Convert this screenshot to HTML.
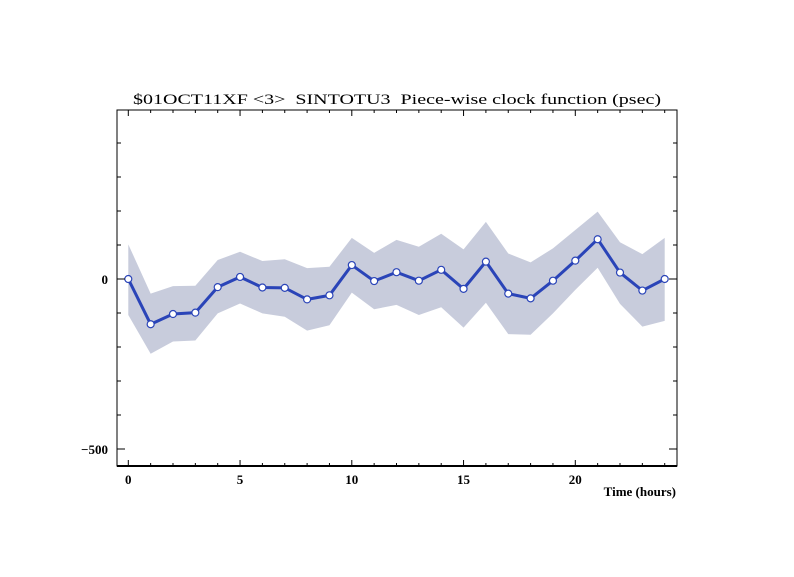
<!DOCTYPE html>
<html><head><meta charset="utf-8"><style>
body{margin:0;background:#fff}
svg{display:block}
text{font-family:"Liberation Serif",serif;font-size:13px;fill:#000;font-weight:bold;white-space:pre}
</style></head><body>
<svg id="chart" width="794" height="577" viewBox="0 0 794 577" xmlns="http://www.w3.org/2000/svg">
<text x="133" y="104" textLength="528" lengthAdjust="spacingAndGlyphs" style="font-size:15px;font-weight:normal" xml:space="preserve">$01OCT11XF &lt;3&gt;  SINTOTU3  Piece-wise clock function (psec)</text>
<g id="band"></g>
<g id="series"></g>
<rect x="117" y="110" width="560" height="356" fill="none" stroke="#000" stroke-width="1"/>
<line x1="117" y1="466" x2="677" y2="466" stroke="#000" stroke-width="2"/>
<g id="axes"></g>
<text x="676" y="496" text-anchor="end">Time (hours)</text>
</svg>
<script>
const hours=[0,1,2,3,4,5,6,7,8,9,10,11,12,13,14,15,16,17,18,19,20,21,22,23,24];
const values=[0,-133,-103,-99,-24,6,-25,-26,-60,-48,41,-6,20,-5,27,-29,51,-43,-57,-5,54,117,19,-34,0];
const upper=[102,-43,-21,-20,56,80,53,58,32,36,121,77,115,95,133,87,168,75,49,90,144,198,108,73,121];
const lower=[-106,-220,-184,-181,-101,-72,-101,-111,-152,-136,-40,-89,-76,-106,-83,-143,-70,-162,-164,-101,-32,33,-73,-140,-123];
const xTicks=[0,5,10,15,20];
const yTickLabels=[0,-500];
const NS='http://www.w3.org/2000/svg';
const X=h=>128.3+h*22.35;
const Y=v=>279-v*0.34;
function mk(tag,attrs,parent){const e=document.createElementNS(NS,tag);for(const k in attrs)e.setAttribute(k,attrs[k]);parent.appendChild(e);return e;}
const band=document.getElementById('band'),series=document.getElementById('series'),axes=document.getElementById('axes');
let pts=hours.map((h,i)=>X(h)+','+Y(upper[i]));
pts=pts.concat(hours.map((h,i)=>X(h)+','+Y(lower[i])).reverse());
const poly=mk('polygon',{points:pts.join(' '),fill:'#c8ccdc'},band);


const line=mk('polyline',{points:hours.map((h,i)=>X(h)+','+Y(values[i])).join(' '),fill:'none',stroke:'#2a44b8','stroke-width':3},series);


hours.forEach((h,i)=>{
 const c=mk('circle',{cx:X(h),cy:Y(values[i]),r:3.5,fill:'#fff',stroke:'#2a44b8','stroke-width':1.2},series);
 
 
});
for(let h=0;h<=24;h++){
 const L=h%5===0?6:3;
 mk('line',{x1:X(h),x2:X(h),y1:466,y2:466-L,stroke:'#000'},axes);
 mk('line',{x1:X(h),x2:X(h),y1:110,y2:110+L,stroke:'#000'},axes);
}
xTicks.forEach(h=>{
 const t=mk('text',{x:X(h),y:484,'text-anchor':'middle'},axes);t.textContent=h;
 
 
});
for(let v=-500;v<=400;v+=100){
 const L=v%500===0?8:4;
 mk('line',{x1:117,x2:117+L,y1:Y(v),y2:Y(v),stroke:'#000'},axes);
 mk('line',{x1:677,x2:677-L,y1:Y(v),y2:Y(v),stroke:'#000'},axes);
}
yTickLabels.forEach(v=>{
 const t=mk('text',{x:108,y:Y(v)+5,'text-anchor':'end'},axes);t.textContent=v<0?'\u2212'+(-v):v;
 
 
});
</script>
</body></html>
